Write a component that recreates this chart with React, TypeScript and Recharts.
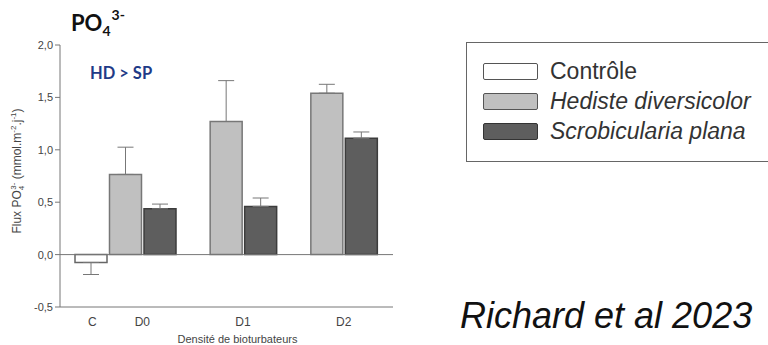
import React from 'react';
import { BarChart, Bar, XAxis, YAxis, ErrorBar, ReferenceLine } from 'recharts';

// flux PO4 3- per bioturbator density, mean and upper/lower error
const densities = ['D0', 'D1', 'D2'];
const controlLabel = 'C';
const controleValues = [-0.075, null, null];
const controleErrors = [0.115, null, null];
const hedisteValues = [0.765, 1.27, 1.54];
const hedisteErrors = [0.26, 0.39, 0.085];
const scrobiculariaValues = [0.437, 0.46, 1.11];
const scrobiculariaErrors = [0.045, 0.08, 0.06];
const yTicks = [-0.5, 0, 0.5, 1, 1.5, 2];

const seriesNames = ['Contrôle', 'Hediste diversicolor', 'Scrobicularia plana'];
const seriesFills = ['#ffffff', '#c0c0c0', '#5e5e5e'];
const seriesStrokes = ['#666666', '#777777', '#3c3c3c'];

const data = densities.map((density, i) => ({
    density,
    controle: controleValues[i],
    controleErr: controleErrors[i] == null ? null : [controleErrors[i], 0],
    hediste: hedisteValues[i],
    hedisteErr: [0, hedisteErrors[i]],
    scrobicularia: scrobiculariaValues[i],
    scrobiculariaErr: [0, scrobiculariaErrors[i]],
}));

const FONT = '"Liberation Sans", Arial, sans-serif';

const DensityTick = (props: any) => {
    const { x, y, payload, index } = props;
    return (
        <g fontFamily={FONT} fontSize={12} fill="#444">
            {index === 0 && (
                <text x={x - 33} y={y + 19} textAnchor="middle" fill="#444">{controlLabel}</text>
            )}
            <text x={x + 17} y={y + 19} textAnchor="middle" fill="#444">{payload.value}</text>
        </g>
    );
};

const XLabel = (props: any) => {
    const { viewBox } = props;
    return (
        <text x={viewBox.x + viewBox.width / 2 + 11} y={viewBox.y + 36} textAnchor="middle"
            fontFamily={FONT} fontSize={11} fill="#444">
            Densité de bioturbateurs
        </text>
    );
};

const YLabel = (props: any) => {
    const { viewBox } = props;
    const cx = viewBox.x + 21;
    const cy = viewBox.y + viewBox.height / 2 - 5;
    return (
        <text x={cx} y={cy} transform={`rotate(-90 ${cx} ${cy})`} textAnchor="middle"
            fontFamily={FONT} fontSize={12} fill="#444">
            Flux PO
            <tspan fontSize={8} dy={3}>4</tspan>
            <tspan fontSize={8} dx={-4} dy={-8}>3-</tspan>
            <tspan dy={5}> (mmol.m</tspan>
            <tspan fontSize={8} dy={-5}>-2</tspan>
            <tspan dy={5}>.j</tspan>
            <tspan fontSize={8} dy={-5}>-1</tspan>
            <tspan dy={5}>)</tspan>
        </text>
    );
};

const ChartLegend = () => (
    <div style={{
        position: 'absolute', left: 466, top: 42, width: 320, height: 120,
        border: '1.5px solid #666', background: '#fff', boxSizing: 'border-box',
    }}>
        {seriesNames.map((name, i) => (
            <div key={name} style={{
                position: 'absolute', left: 16, top: 20 + i * 30, display: 'flex', alignItems: 'center',
            }}>
                <div style={{
                    width: 55, height: 17, boxSizing: 'border-box', background: seriesFills[i],
                    border: `1.5px solid ${seriesStrokes[i] === '#3c3c3c' ? '#333' : '#555'}`, borderRadius: 2,
                }} />
                <span style={{
                    marginLeft: 12, fontFamily: FONT, fontSize: 23, lineHeight: '17px', color: '#333',
                    fontStyle: i === 0 ? 'normal' : 'italic', whiteSpace: 'nowrap',
                }}>{name}</span>
            </div>
        ))}
    </div>
);

const App: React.FC = () => (
    <div style={{ position: 'fixed', left: 0, top: 0, width: 768, height: 345, background: '#fff', overflow: 'hidden' }}>
        <BarChart width={768} height={345} data={data} barCategoryGap={0} barGap={2.5}
            margin={{ top: 45, right: 375, bottom: 0, left: 0 }}>
            <XAxis dataKey="density" height={38} padding={{ left: 15, right: 16 }}
                axisLine={{ stroke: '#777' }} tickLine={false} tickSize={0} tickMargin={0}
                tick={<DensityTick />} label={<XLabel />} />
            <YAxis width={60} domain={[-0.5, 2]} ticks={yTicks} type="number"
                tickFormatter={(v: number) => v.toFixed(1).replace('.', ',')}
                tick={{ fontSize: 11, fill: '#444', fontFamily: FONT }}
                axisLine={{ stroke: '#777' }} tickLine={{ stroke: '#777' }} tickSize={5}
                label={<YLabel />} />
            <ReferenceLine y={0} stroke="#777" />
            <Bar dataKey="controle" fill={seriesFills[0]} stroke={seriesStrokes[0]} strokeWidth={1.5} isAnimationActive={false}>
                <ErrorBar dataKey="controleErr" width={8} stroke="#777" strokeWidth={1} direction="y" />
            </Bar>
            <Bar dataKey="hediste" fill={seriesFills[1]} stroke={seriesStrokes[1]} strokeWidth={1.5} isAnimationActive={false}>
                <ErrorBar dataKey="hedisteErr" width={8} stroke="#777" strokeWidth={1} direction="y" />
            </Bar>
            <Bar dataKey="scrobicularia" fill={seriesFills[2]} stroke={seriesStrokes[2]} strokeWidth={1.5} isAnimationActive={false}>
                <ErrorBar dataKey="scrobiculariaErr" width={8} stroke="#777" strokeWidth={1} direction="y" />
            </Bar>
        </BarChart>

        <svg width={768} height={345} style={{ position: 'absolute', left: 0, top: 0, pointerEvents: 'none' }}>
            <text x={71} y={31} fontFamily="Lato, sans-serif" fontWeight={700} fontSize={22} fill="#111">
                PO
                <tspan fontSize={14} dy={5}>4</tspan>
                <tspan fontSize={14} dy={-16} dx={1}>3-</tspan>
            </text>
            <text x={90} y={79} fontFamily="Lato, sans-serif" fontWeight={700} fontSize={16.5} fill="#1f3b87">
                HD &gt; SP
            </text>
            <text x={460} y={328} fontFamily={FONT} fontStyle="italic" fontSize={36} fill="#111">
                Richard et al 2023
            </text>
        </svg>

        <ChartLegend />
    </div>
);

export default App;
